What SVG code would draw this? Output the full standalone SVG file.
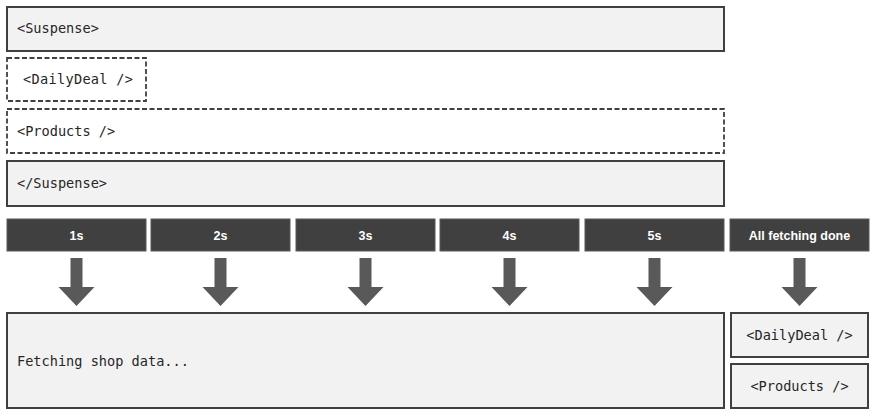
<svg xmlns="http://www.w3.org/2000/svg" width="878" height="416" viewBox="0 0 878 416">
<defs>
<style>
.box{fill:#f2f2f2;stroke:#404040;stroke-width:2}
.dash{fill:#ffffff;stroke:#404040;stroke-width:1.8;stroke-dasharray:5 2.5}
.bar{fill:#404040;stroke:#595959;stroke-width:1}
.mono{font-family:"DejaVu Sans Mono","Liberation Mono",monospace;font-size:13.6px;fill:#262626}
.lbl{font-family:"Liberation Sans",Arial,sans-serif;font-weight:bold;font-size:12.5px;fill:#ffffff;text-anchor:middle}
.arr{fill:#595959}
</style>
<path id="arrow" d="M-6,258 H6 V287 H18 L0,306 L-18,287 H-6 Z"/>
</defs>
<g id="suspense-open"><rect class="box" x="7" y="7" width="717" height="44"/><text class="mono" x="17" y="33">&lt;Suspense&gt;</text></g>
<g id="dailydeal-fallback"><rect class="dash" x="7" y="58" width="139" height="43"/><text class="mono" x="23" y="84" letter-spacing="0.3">&lt;DailyDeal /&gt;</text></g>
<g id="products-fallback"><rect class="dash" x="7" y="109" width="717" height="44"/><text class="mono" x="17" y="136">&lt;Products /&gt;</text></g>
<g id="suspense-close"><rect class="box" x="7" y="161" width="717" height="45"/><text class="mono" x="17" y="188">&lt;/Suspense&gt;</text></g>
<g id="t1"><rect class="bar" x="7" y="219" width="139" height="32"/><text class="lbl" x="76.5" y="240">1s</text></g>
<g id="t2"><rect class="bar" x="151" y="219" width="139" height="32"/><text class="lbl" x="220.5" y="240">2s</text></g>
<g id="t3"><rect class="bar" x="296" y="219" width="139" height="32"/><text class="lbl" x="365.5" y="240">3s</text></g>
<g id="t4"><rect class="bar" x="440" y="219" width="139" height="32"/><text class="lbl" x="509.5" y="240">4s</text></g>
<g id="t5"><rect class="bar" x="585" y="219" width="139" height="32"/><text class="lbl" x="654.5" y="240">5s</text></g>
<g id="tdone"><rect class="bar" x="730" y="219" width="139" height="32"/><text class="lbl" x="799.5" y="240">All fetching done</text></g>
<g id="connectors">
<use href="#arrow" class="arr" x="76.5"/>
<use href="#arrow" class="arr" x="220.5"/>
<use href="#arrow" class="arr" x="365.5"/>
<use href="#arrow" class="arr" x="509.5"/>
<use href="#arrow" class="arr" x="654.5"/>
<use href="#arrow" class="arr" x="799.5"/>
</g>
<g id="fetching"><rect class="box" x="7" y="313" width="717" height="95"/><text class="mono" x="17" y="366">Fetching shop data...</text></g>
<g id="dailydeal"><rect class="box" x="731" y="313" width="137" height="44"/><text class="mono" x="799.5" y="340" text-anchor="middle">&lt;DailyDeal /&gt;</text></g>
<g id="products"><rect class="box" x="731" y="364" width="137" height="44"/><text class="mono" x="799.5" y="391" text-anchor="middle">&lt;Products /&gt;</text></g>
</svg>
